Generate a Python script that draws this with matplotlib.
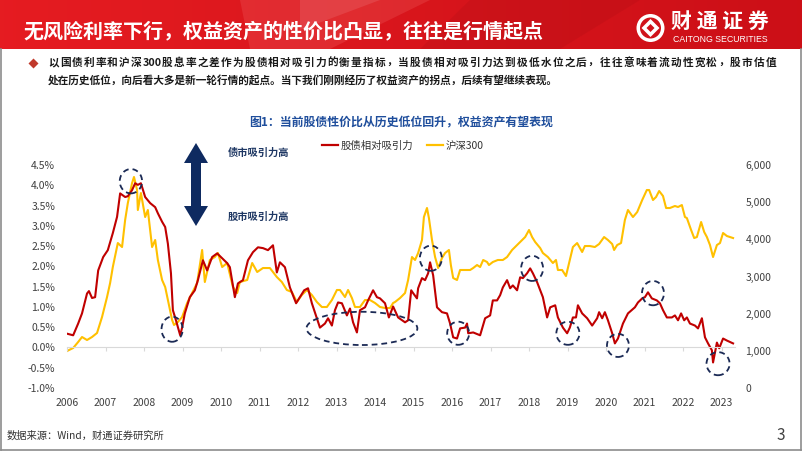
import re
import numpy as np
import matplotlib
matplotlib.use("Agg")
import matplotlib.pyplot as plt
from matplotlib.patches import Ellipse, Polygon, Circle
from matplotlib.lines import Line2D
from matplotlib.ticker import FuncFormatter

plt.rcParams['font.family'] = ['Noto Sans CJK SC', 'DejaVu Sans']

# ---- data ----
# 股债相对吸引力 (%), time in decimal years
bond_t = [2006.00, 2006.16, 2006.29, 2006.39, 2006.52, 2006.57, 2006.65, 2006.73, 2006.81, 2006.94,
          2007.06, 2007.19, 2007.30, 2007.38, 2007.51, 2007.58, 2007.69, 2007.77, 2007.84, 2007.92,
          2008.03, 2008.16, 2008.29, 2008.36, 2008.47, 2008.55, 2008.62, 2008.70, 2008.75, 2008.83,
          2008.94, 2008.99, 2009.06, 2009.19, 2009.32, 2009.40, 2009.53, 2009.64, 2009.77, 2009.90,
          2010.03, 2010.16, 2010.23, 2010.36, 2010.44, 2010.57, 2010.70, 2010.83, 2010.96, 2011.09,
          2011.22, 2011.35, 2011.45, 2011.53, 2011.66, 2011.79, 2011.84, 2011.95, 2012.05, 2012.16,
          2012.26, 2012.36, 2012.49, 2012.57, 2012.70, 2012.78, 2012.88, 2012.96, 2013.04, 2013.14,
          2013.27, 2013.35, 2013.43, 2013.53, 2013.61, 2013.74, 2013.82, 2013.95, 2014.05, 2014.13,
          2014.26, 2014.36, 2014.47, 2014.60, 2014.78, 2014.86, 2014.94, 2014.99, 2015.09, 2015.12,
          2015.22, 2015.30, 2015.38, 2015.43, 2015.51, 2015.61, 2015.74, 2015.87, 2015.95, 2016.03,
          2016.13, 2016.21, 2016.34, 2016.39, 2016.42, 2016.55, 2016.73, 2016.86, 2016.99, 2017.06,
          2017.17, 2017.25, 2017.32, 2017.43, 2017.51, 2017.58, 2017.69, 2017.77, 2017.84, 2017.95,
          2018.03, 2018.10, 2018.21, 2018.29, 2018.36, 2018.47, 2018.55, 2018.68, 2018.75, 2018.88,
          2018.99, 2019.06, 2019.14, 2019.22, 2019.27, 2019.38, 2019.51, 2019.64, 2019.77, 2019.82,
          2019.90, 2019.97, 2020.05, 2020.16, 2020.23, 2020.31, 2020.44, 2020.57, 2020.75, 2020.83,
          2020.94, 2021.01, 2021.09, 2021.19, 2021.32, 2021.40, 2021.48, 2021.58, 2021.71, 2021.79,
          2021.87, 2021.95, 2022.03, 2022.10, 2022.18, 2022.31, 2022.39, 2022.49, 2022.57, 2022.65,
          2022.75, 2022.78, 2022.88, 2022.94, 2023.04, 2023.14, 2023.30]
bond_v = [0.34, 0.30, 0.59, 0.84, 1.33, 1.39, 1.22, 1.24, 1.90, 2.23,
          2.40, 2.82, 3.22, 3.80, 3.71, 3.73, 3.88, 4.05, 4.01, 4.05,
          3.71, 3.56, 3.46, 3.31, 3.10, 2.97, 2.56, 1.83, 0.92, 0.67,
          0.30, 0.49, 0.84, 1.24, 1.41, 1.66, 2.15, 1.90, 2.23, 2.32,
          2.20, 2.08, 1.98, 1.24, 1.58, 1.66, 2.15, 2.35, 2.47, 2.45,
          2.40, 2.52, 1.85, 2.10, 1.98, 1.48, 1.36, 1.09, 1.24, 1.41,
          1.46, 1.09, 0.72, 0.49, 0.59, 0.72, 0.54, 0.92, 1.11, 1.09,
          0.79, 0.96, 0.62, 0.37, 0.92, 0.99, 1.16, 1.41, 1.24, 1.21,
          1.09, 0.74, 1.01, 0.74, 0.62, 0.67, 1.41, 1.34, 1.21, 1.46,
          1.71, 1.66, 1.83, 2.10, 1.78, 0.99, 0.87, 0.84, 0.59, 0.25,
          0.22, 0.47, 0.49, 0.59, 0.35, 0.37, 0.30, 0.72, 0.79, 1.16,
          1.16, 1.29, 1.48, 1.66, 1.46, 1.53, 1.41, 1.73, 1.71, 1.83,
          1.95, 1.83, 1.61, 1.41, 1.24, 0.74, 0.99, 1.04, 0.74, 0.49,
          0.35, 0.49, 0.74, 0.74, 1.04, 0.84, 0.72, 0.54, 0.72, 0.87,
          0.72, 0.87, 0.67, 0.35, 0.10, 0.22, 0.59, 0.84, 0.99, 1.11,
          1.21, 1.24, 1.36, 1.21, 1.16, 1.09, 0.92, 0.74, 0.74, 0.79,
          0.67, 0.84, 0.67, 0.74, 0.59, 0.54, 0.47, 0.72, 0.25, 0.10,
          -0.07, -0.37, 0.12, -0.02, 0.22, 0.17, 0.10]

# 沪深300 (index points)
csi_t = [2006.00, 2006.16, 2006.29, 2006.39, 2006.52, 2006.65, 2006.78, 2006.91, 2007.04, 2007.12,
         2007.19, 2007.32, 2007.43, 2007.51, 2007.58, 2007.69, 2007.74, 2007.82, 2007.84, 2007.92,
         2008.03, 2008.10, 2008.21, 2008.29, 2008.36, 2008.47, 2008.55, 2008.62, 2008.73, 2008.78,
         2008.88, 2008.99, 2009.12, 2009.25, 2009.38, 2009.51, 2009.58, 2009.71, 2009.84, 2009.92,
         2010.03, 2010.16, 2010.31, 2010.42, 2010.49, 2010.68, 2010.81, 2010.94, 2011.09, 2011.27,
         2011.45, 2011.58, 2011.71, 2011.84, 2011.97, 2012.10, 2012.23, 2012.36, 2012.49, 2012.62,
         2012.75, 2012.88, 2013.01, 2013.09, 2013.22, 2013.30, 2013.40, 2013.48, 2013.61, 2013.74,
         2013.87, 2014.00, 2014.13, 2014.26, 2014.39, 2014.47, 2014.52, 2014.65, 2014.78, 2014.86,
         2014.96, 2015.04, 2015.12, 2015.22, 2015.27, 2015.35, 2015.40, 2015.48, 2015.56, 2015.64,
         2015.74, 2015.82, 2015.92, 2015.97, 2016.03, 2016.13, 2016.21, 2016.34, 2016.47, 2016.55,
         2016.65, 2016.73, 2016.81, 2016.91, 2016.96, 2017.06, 2017.19, 2017.32, 2017.43, 2017.56,
         2017.69, 2017.82, 2017.90, 2018.00, 2018.08, 2018.16, 2018.29, 2018.36, 2018.49, 2018.62,
         2018.70, 2018.75, 2018.86, 2018.96, 2019.06, 2019.14, 2019.25, 2019.38, 2019.45, 2019.58,
         2019.71, 2019.82, 2019.95, 2020.05, 2020.16, 2020.21, 2020.29, 2020.39, 2020.49, 2020.57,
         2020.70, 2020.81, 2020.94, 2021.06, 2021.12, 2021.22, 2021.30, 2021.38, 2021.48, 2021.56,
         2021.66, 2021.79, 2021.87, 2021.97, 2022.05, 2022.10, 2022.21, 2022.29, 2022.36, 2022.47,
         2022.55, 2022.62, 2022.70, 2022.78, 2022.88, 2022.96, 2023.04, 2023.14, 2023.30]
csi_v = [995, 1076, 1238, 1372, 1291, 1372, 1480, 1910, 2448, 2825,
         3255, 3900, 3793, 4520, 4977, 5515, 5677, 5327, 4789, 5246,
         4600, 4789, 3793, 3982, 3444, 2906, 2717, 2367, 1829, 1695,
         1776, 1910, 2287, 2556, 2825, 3713, 2852, 3444, 3524, 3632,
         3255, 3363, 2717, 2556, 2852, 2906, 3363, 3121, 3228, 3228,
         2986, 2852, 2637, 2583, 2314, 2502, 2637, 2502, 2314, 2179,
         2179, 2367, 2637, 2637, 2448, 2637, 2421, 2179, 2179, 2367,
         2367, 2287, 2179, 2152, 2152, 2287, 2314, 2421, 2556, 2906,
         3524, 3444, 3632, 3982, 4600, 4843, 4573, 3982, 3524, 3228,
         3498, 3632, 3713, 3309, 2959, 2906, 3175, 3175, 3175, 3228,
         3309, 3255, 3444, 3390, 3309, 3390, 3444, 3444, 3524, 3713,
         3847, 3982, 4062, 4251, 4062, 3928, 3766, 3632, 3524, 3363,
         3444, 3175, 3175, 3013, 3444, 3793, 3900, 3659, 3820, 3820,
         3793, 3874, 4062, 3982, 3874, 3713, 3847, 3900, 4520, 4789,
         4600, 4735, 5058, 5327, 5327, 5058, 5139, 5300, 5166, 4843,
         4843, 4897, 4870, 4923, 4600, 4573, 4251, 4035, 4062, 4466,
         4197, 4062, 3847, 3524, 3847, 3900, 4170, 4089, 4035]

years = list(range(2006, 2024))
left_ticks = [-1.0, -0.5, 0.0, 0.5, 1.0, 1.5, 2.0, 2.5, 3.0, 3.5, 4.0, 4.5]
right_ticks = [0, 1000, 2000, 3000, 4000, 5000, 6000]

bullet_line1 = '以国债利率和沪深300股息率之差作为股债相对吸引力的衡量指标，当股债相对吸引力达到极低水位之后，往往意味着流动性宽松，股市估值'
bullet_line2 = '处在历史低位，向后看大多是新一轮行情的起点。当下我们刚刚经历了权益资产的拐点，后续有望继续表现。'

# dashed circles marking turning points: (year, %, width in years, height in %)
circles = [(2007.66, 4.10, 0.58, 0.60), (2008.73, 0.45, 0.55, 0.62), (2013.66, 0.47, 2.88, 0.82),
           (2015.45, 2.20, 0.57, 0.62), (2016.16, 0.35, 0.57, 0.57), (2018.08, 1.95, 0.57, 0.62),
           (2019.01, 0.35, 0.60, 0.57), (2020.31, 0.05, 0.57, 0.57), (2021.22, 1.34, 0.57, 0.60),
           (2022.91, -0.40, 0.60, 0.57)]

RED = '#c00000'
YELLOW = '#ffc000'
NAVY = '#1b2a55'

fig = plt.figure(figsize=(8.02, 4.51), dpi=100)
renderer = fig.canvas.get_renderer()

# background layer in pixel coordinates
bg = fig.add_axes([0, 0, 1, 1])
bg.set_xlim(0, 802)
bg.set_ylim(451, 0)
bg.axis('off')

# red banner
grad = np.linspace(0, 1, 400)
c1 = np.array([0.90, 0.11, 0.13])
c2 = np.array([0.80, 0.06, 0.09])
banner = (c1[None, :] * (1 - grad[:, None]) + c2[None, :] * grad[:, None])[None, :, :]
bg.imshow(banner, extent=(0, 802, 49, 0), aspect='auto', zorder=0)
bg.add_patch(Polygon([(240, 0), (430, 0), (330, 49), (250, 49)], closed=True,
                     fc='#f26a6a', alpha=0.25, lw=0, zorder=1))
bg.add_patch(Polygon([(300, 0), (380, 0), (300, 30)], closed=True,
                     fc='#ffffff', alpha=0.10, lw=0, zorder=1))
bg.add_patch(Polygon([(470, 0), (640, 0), (560, 49), (420, 49)], closed=True,
                     fc='#a00a10', alpha=0.18, lw=0, zorder=1))
bg.text(23, 31, '无风险利率下行，权益资产的性价比凸显，往往是行情起点', color='white',
        fontsize=14.4, fontweight='bold', va='center', ha='left', zorder=3)

# logo
bg.add_patch(Circle((650.5, 28), 14, fc='white', ec='none', zorder=3))
bg.add_patch(Circle((650.5, 28), 10.5, fc='#d0121a', ec='none', zorder=3))
bg.add_patch(Polygon([(650.5, 19), (659.5, 28), (650.5, 37), (641.5, 28)], closed=True,
                     fc='white', ec='none', zorder=4))
bg.add_patch(Polygon([(650.5, 24), (654.5, 28), (650.5, 32), (646.5, 28)], closed=True,
                     fc='#d0121a', ec='none', zorder=5))
bg.text(671, 21, '财 通 证 券', color='white', fontsize=15, fontweight='bold',
        va='center', ha='left', zorder=3)
bg.text(673, 39.5, 'CAITONG SECURITIES', color='white', fontsize=6.3,
        family='Liberation Sans', va='center', ha='left', zorder=3)

# frame
bg.plot([1, 1], [49, 449.5], color='#8c8c8c', lw=1.2)
bg.plot([1, 800.5], [449.5, 449.5], color='#8c8c8c', lw=1.2)
bg.plot([800.5, 800.5], [49, 449.5], color='#8c8c8c', lw=1.2)

# bullet text: size the 2nd line to its width on the slide, justify the 1st line
bg.plot([33], [63], marker='D', ms=5, color='#c0392b', mec='none')
fs = 7.7
txt = dict(fontsize=fs, fontweight='bold', color='#1a1a1a', va='center', ha='left')
t2 = bg.text(48, 81, bullet_line2, **txt)
w2 = t2.get_window_extent(renderer).width
fs = fs * (557 - 48) / w2
t2.set_fontsize(fs)
txt['fontsize'] = fs
em = (557 - 48) / 47.5
tokens = re.findall(r'\d+|.', bullet_line1)
widths = [len(t) * 0.554 * em if t.isdigit() else em for t in tokens]
extra = (776 - 48 - sum(widths)) / (len(tokens) - 1)
x = 48
for t, w in zip(tokens, widths):
    bg.text(x, 63, t, **txt)
    x += w + extra

# chart title
bg.text(401, 122, '图1：当前股债性价比从历史低位回升，权益资产有望表现', color='#1f4e9c',
        fontsize=8.6, fontweight='bold', va='center', ha='center')

# double arrow
arrow = [(196, 143), (208, 163), (201, 163), (201, 206), (208, 206), (196, 226),
         (184, 206), (191, 206), (191, 163), (184, 163)]
bg.add_patch(Polygon(arrow, closed=True, fc='#0e2a60', ec='none'))
bg.text(228, 153, '债市吸引力高', color='#1f3864', fontsize=7.4, fontweight='bold', va='center', ha='left')
bg.text(228, 217, '股市吸引力高', color='#1f3864', fontsize=7.4, fontweight='bold', va='center', ha='left')

# footer
bg.text(7, 436, '数据来源：Wind，财通证券研究所', color='#333333', fontsize=7.4, va='center', ha='left')
bg.text(781, 436, '3', color='#404040', fontsize=11, va='center', ha='center')

# ---- chart ----
ax = fig.add_axes([67 / 802, 1 - 388 / 451, (735 - 67) / 802, (388 - 165) / 451])
ax2 = ax.twinx()
ax.set_zorder(ax2.get_zorder() + 1)
ax.patch.set_visible(False)

ax2.plot(csi_t, csi_v, color=YELLOW, lw=1.5)
ax.plot(bond_t, bond_v, color=RED, lw=1.5)

ax.set_xlim(2006, 2023.35)
ax.set_ylim(-1.0, 4.5)
ax2.set_ylim(0, 6000)

ax.set_yticks(left_ticks)
ax.yaxis.set_major_formatter(FuncFormatter(lambda v, p: '{:.1f}%'.format(v)))
ax2.set_yticks(right_ticks)
ax2.yaxis.set_major_formatter(FuncFormatter(lambda v, p: '{:,.0f}'.format(v)))
ax.tick_params(axis='y', length=0, pad=8.5, labelsize=7.5, labelcolor='#404040')
ax2.tick_params(axis='y', length=0, pad=7.5, labelsize=7.5, labelcolor='#404040')

for a in (ax, ax2):
    for s in ('top', 'left', 'right', 'bottom'):
        a.spines[s].set_visible(False)

# zero line with year ticks; labels sit below the plot
ax.spines['bottom'].set_visible(True)
ax.spines['bottom'].set_position(('data', 0))
ax.spines['bottom'].set_color('#d9d9d9')
ax.set_xticks(years)
ax.tick_params(axis='x', length=3, color='#d9d9d9', labelbottom=False)
sec = ax.secondary_xaxis('bottom')
sec.set_xticks(years)
sec.tick_params(length=0, pad=7, labelsize=7.5, labelcolor='#404040')
sec.spines['bottom'].set_visible(False)

for cx, cy, w, h in circles:
    ax.add_patch(Ellipse((cx, cy), w, h, fill=False, ec=NAVY, lw=1.3,
                         ls=(0, (3.2, 2.2)), clip_on=False, zorder=5))

handles = [Line2D([], [], color=RED, lw=1.6), Line2D([], [], color=YELLOW, lw=1.6)]
fig.legend(handles, ['股债相对吸引力', '沪深300'], ncol=2, loc='center',
           bbox_to_anchor=(403 / 802, 1 - 146 / 451), frameon=False, fontsize=7.5,
           handlelength=1.5, handletextpad=0.3, columnspacing=1.3, labelcolor='#333333')

fig.savefig('out.png', dpi=100)
